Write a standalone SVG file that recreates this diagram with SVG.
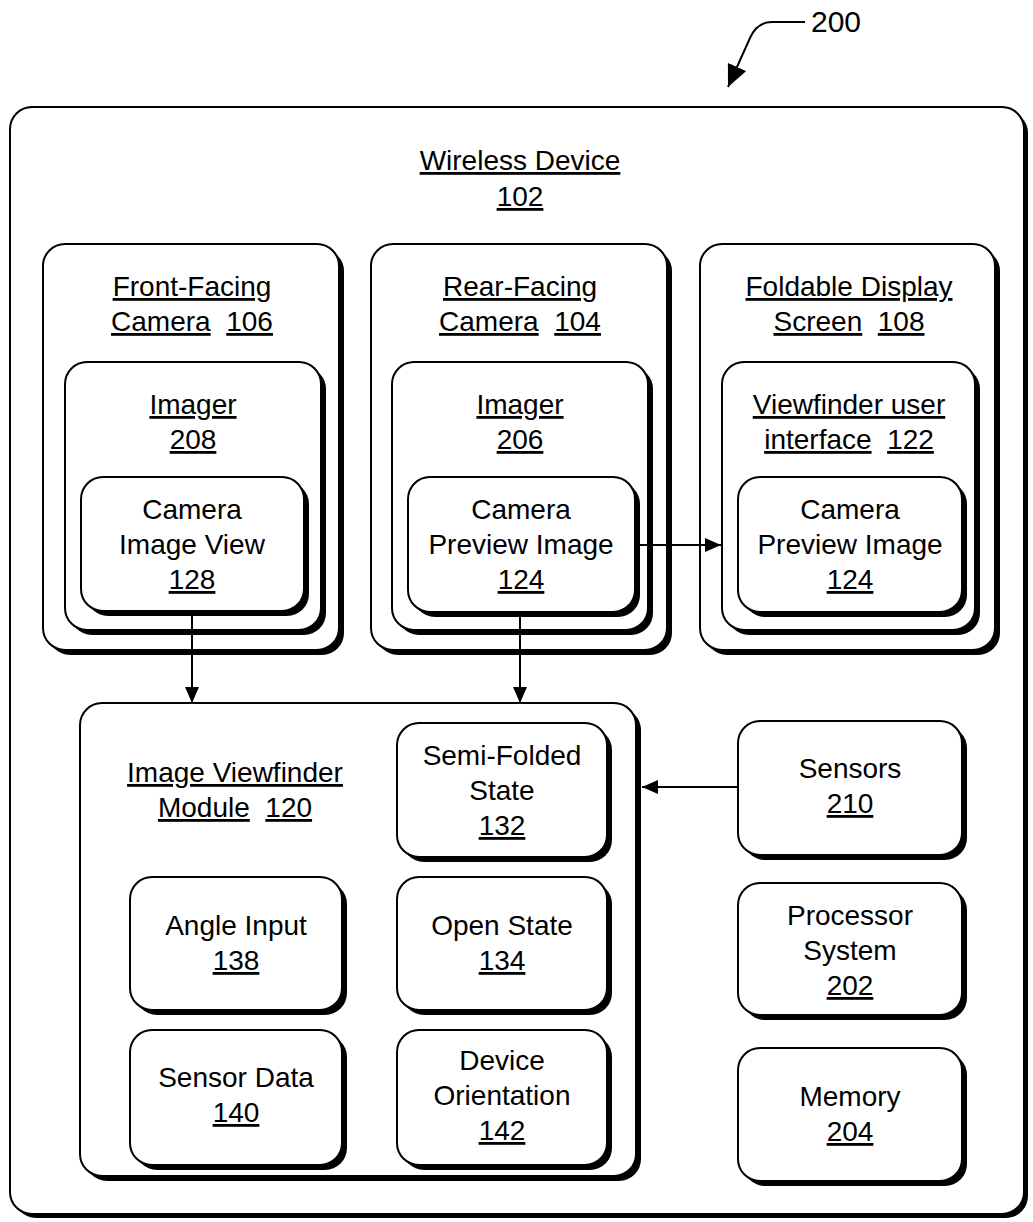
<svg xmlns="http://www.w3.org/2000/svg" width="1033" height="1222" viewBox="0 0 1033 1222">
  <style>
    text { font-family: "Liberation Sans", Arial, sans-serif; font-size: 28px; fill: #000; text-anchor: middle; white-space: pre; }
    .u { text-decoration: underline; }
    .shadow { fill: #000; }
    .box { fill: #fff; stroke: #000; stroke-width: 2; }
    .conn { stroke: #000; stroke-width: 2; fill: none; }
  </style>
  <defs>
    <marker id="arrow" viewBox="0 0 16 14" refX="16" refY="7" markerWidth="16" markerHeight="14" markerUnits="userSpaceOnUse" orient="auto">
      <path d="M0,0 L16,7 L0,14 Z" fill="#000"/>
    </marker>
    <marker id="bigArrow" viewBox="0 0 22 20" refX="22" refY="10" markerWidth="22" markerHeight="20" markerUnits="userSpaceOnUse" orient="auto">
      <path d="M0,0 L22,10 L0,20 Z" fill="#000"/>
    </marker>
  </defs>

  <!-- reference label -->
  <g id="label-200">
    <text x="836" y="32" style="font-size:30px">200</text>
    <path class="conn" d="M805,22 L772,22 Q757,22 750,38 L728,87" marker-end="url(#bigArrow)"/>
  </g>

  <!-- outer device -->
  <g id="wireless-device">
    <rect class="shadow" x="14" y="111" width="1014" height="1107" rx="22"/>
    <rect class="box" x="10" y="107" width="1014" height="1107" rx="22"/>
    <text x="520" y="170"><tspan class="u">Wireless Device</tspan></text>
    <text x="520" y="206"><tspan class="u">102</tspan></text>
  </g>

  <!-- front-facing camera column -->
  <g id="front-facing-camera">
    <rect class="shadow" x="48" y="249" width="296" height="406" rx="22"/>
    <rect class="box" x="43" y="244" width="296" height="406" rx="22"/>
    <text x="192" y="296"><tspan class="u">Front-Facing</tspan></text>
    <text x="192" y="331"><tspan class="u">Camera</tspan>  <tspan class="u">106</tspan></text>
  </g>
  <g id="imager-208">
    <rect class="shadow" x="70" y="367" width="256" height="268" rx="22"/>
    <rect class="box" x="65" y="362" width="256" height="268" rx="22"/>
    <text x="193" y="414"><tspan class="u">Imager</tspan></text>
    <text x="193" y="449"><tspan class="u">208</tspan></text>
  </g>
  <g id="camera-image-view-128">
    <rect class="shadow" x="86" y="482" width="223" height="134" rx="22"/>
    <rect class="box" x="81" y="477" width="223" height="134" rx="22"/>
    <text x="192" y="519">Camera</text>
    <text x="192" y="554">Image View</text>
    <text x="192" y="589"><tspan class="u">128</tspan></text>
  </g>

  <!-- rear-facing camera column -->
  <g id="rear-facing-camera">
    <rect class="shadow" x="376" y="249" width="296" height="406" rx="22"/>
    <rect class="box" x="371" y="244" width="296" height="406" rx="22"/>
    <text x="520" y="296"><tspan class="u">Rear-Facing</tspan></text>
    <text x="520" y="331"><tspan class="u">Camera</tspan>  <tspan class="u">104</tspan></text>
  </g>
  <g id="imager-206">
    <rect class="shadow" x="397" y="367" width="256" height="268" rx="22"/>
    <rect class="box" x="392" y="362" width="256" height="268" rx="22"/>
    <text x="520" y="414"><tspan class="u">Imager</tspan></text>
    <text x="520" y="449"><tspan class="u">206</tspan></text>
  </g>
  <g id="camera-preview-image-124-rear">
    <rect class="shadow" x="413" y="482" width="227" height="135" rx="22"/>
    <rect class="box" x="408" y="477" width="227" height="135" rx="22"/>
    <text x="521" y="519">Camera</text>
    <text x="521" y="554">Preview Image</text>
    <text x="521" y="589"><tspan class="u">124</tspan></text>
  </g>

  <!-- foldable display column -->
  <g id="foldable-display-screen">
    <rect class="shadow" x="705" y="249" width="295" height="406" rx="22"/>
    <rect class="box" x="700" y="244" width="295" height="406" rx="22"/>
    <text x="849" y="296"><tspan class="u">Foldable Display</tspan></text>
    <text x="849" y="331"><tspan class="u">Screen</tspan>  <tspan class="u">108</tspan></text>
  </g>
  <g id="viewfinder-user-interface">
    <rect class="shadow" x="727" y="367" width="253" height="268" rx="22"/>
    <rect class="box" x="722" y="362" width="253" height="268" rx="22"/>
    <text x="849" y="414"><tspan class="u">Viewfinder user</tspan></text>
    <text x="849" y="449"><tspan class="u">interface</tspan>  <tspan class="u">122</tspan></text>
  </g>
  <g id="camera-preview-image-124-display">
    <rect class="shadow" x="743" y="482" width="224" height="135" rx="22"/>
    <rect class="box" x="738" y="477" width="224" height="135" rx="22"/>
    <text x="850" y="519">Camera</text>
    <text x="850" y="554">Preview Image</text>
    <text x="850" y="589"><tspan class="u">124</tspan></text>
  </g>

  <!-- image viewfinder module -->
  <g id="image-viewfinder-module">
    <rect class="shadow" x="85" y="708" width="556" height="473" rx="22"/>
    <rect class="box" x="80" y="703" width="556" height="473" rx="22"/>
    <text x="235" y="782"><tspan class="u">Image Viewfinder</tspan></text>
    <text x="235" y="817"><tspan class="u">Module</tspan>  <tspan class="u">120</tspan></text>
  </g>
  <g id="semi-folded-state">
    <rect class="shadow" x="402" y="728" width="210" height="134" rx="22"/>
    <rect class="box" x="397" y="723" width="210" height="134" rx="22"/>
    <text x="502" y="765">Semi-Folded</text>
    <text x="502" y="800">State</text>
    <text x="502" y="835"><tspan class="u">132</tspan></text>
  </g>
  <g id="angle-input">
    <rect class="shadow" x="135" y="882" width="212" height="133" rx="22"/>
    <rect class="box" x="130" y="877" width="212" height="133" rx="22"/>
    <text x="236" y="935">Angle Input</text>
    <text x="236" y="970"><tspan class="u">138</tspan></text>
  </g>
  <g id="open-state">
    <rect class="shadow" x="402" y="882" width="210" height="133" rx="22"/>
    <rect class="box" x="397" y="877" width="210" height="133" rx="22"/>
    <text x="502" y="935">Open State</text>
    <text x="502" y="970"><tspan class="u">134</tspan></text>
  </g>
  <g id="sensor-data">
    <rect class="shadow" x="135" y="1035" width="212" height="135" rx="22"/>
    <rect class="box" x="130" y="1030" width="212" height="135" rx="22"/>
    <text x="236" y="1087">Sensor Data</text>
    <text x="236" y="1122"><tspan class="u">140</tspan></text>
  </g>
  <g id="device-orientation">
    <rect class="shadow" x="402" y="1035" width="210" height="135" rx="22"/>
    <rect class="box" x="397" y="1030" width="210" height="135" rx="22"/>
    <text x="502" y="1070">Device</text>
    <text x="502" y="1105">Orientation</text>
    <text x="502" y="1140"><tspan class="u">142</tspan></text>
  </g>

  <!-- right-hand components -->
  <g id="sensors">
    <rect class="shadow" x="743" y="726" width="224" height="134" rx="22"/>
    <rect class="box" x="738" y="721" width="224" height="134" rx="22"/>
    <text x="850" y="778">Sensors</text>
    <text x="850" y="813"><tspan class="u">210</tspan></text>
  </g>
  <g id="processor-system">
    <rect class="shadow" x="743" y="888" width="224" height="132" rx="22"/>
    <rect class="box" x="738" y="883" width="224" height="132" rx="22"/>
    <text x="850" y="925">Processor</text>
    <text x="850" y="960">System</text>
    <text x="850" y="995"><tspan class="u">202</tspan></text>
  </g>
  <g id="memory">
    <rect class="shadow" x="743" y="1053" width="224" height="133" rx="22"/>
    <rect class="box" x="738" y="1048" width="224" height="133" rx="22"/>
    <text x="850" y="1106">Memory</text>
    <text x="850" y="1141"><tspan class="u">204</tspan></text>
  </g>

  <!-- connectors -->
  <g id="connectors">
    <path class="conn" d="M192,616 L192,703" marker-end="url(#arrow)"/>
    <path class="conn" d="M520,617 L520,703" marker-end="url(#arrow)"/>
    <path class="conn" d="M640,545 L721,545" marker-end="url(#arrow)"/>
    <path class="conn" d="M738,787 L642,787" marker-end="url(#arrow)"/>
  </g>
</svg>
